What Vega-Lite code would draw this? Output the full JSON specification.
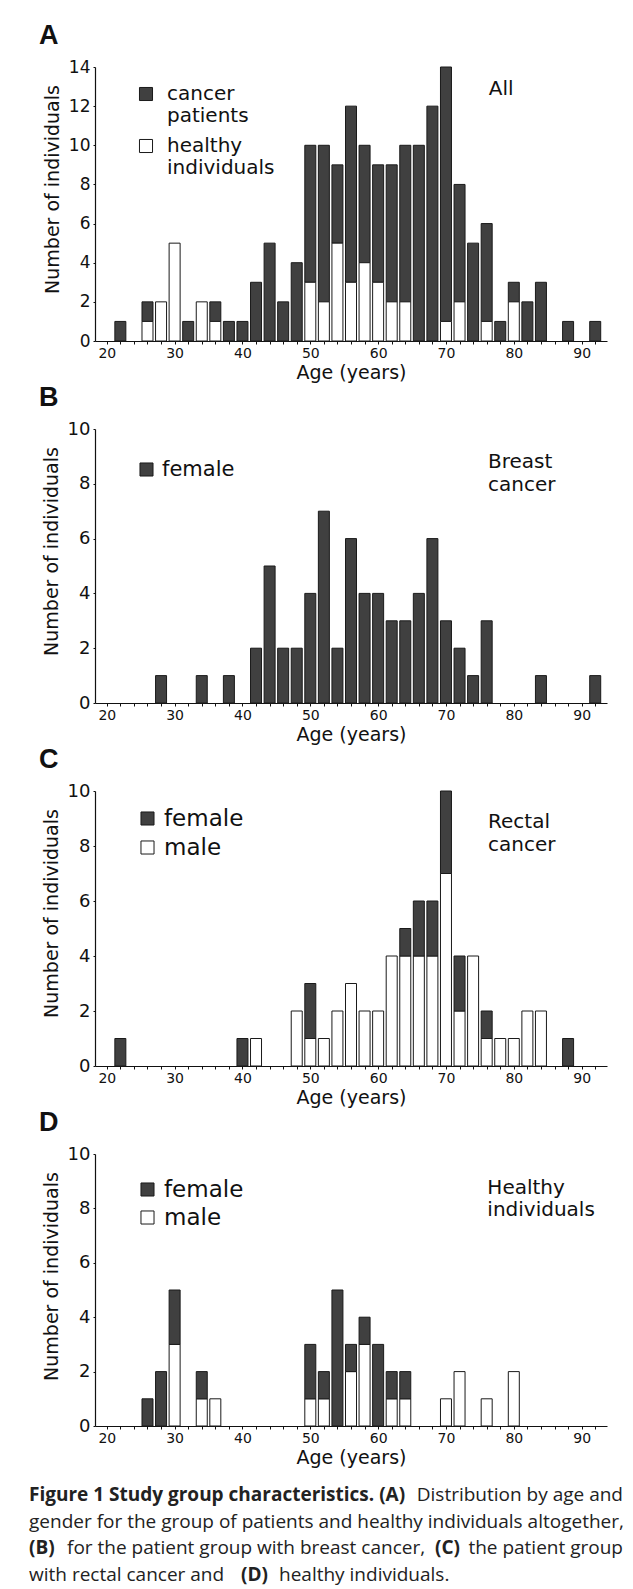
{
  "$schema": "https://vega.github.io/schema/vega-lite/v6.json",
  "background": "white",
  "padding": {"top": 22, "left": 29, "right": 5, "bottom": 4},
  "spacing": 2,
  "resolve": {"scale": {"color": "independent"}, "legend": {"color": "independent"}},
  "datasets": {
    "A": [
      {"age": 22, "group": "cancer patients", "n": 1},
      {"age": 26, "group": "cancer patients", "n": 1},
      {"age": 26, "group": "healthy individuals", "n": 1},
      {"age": 28, "group": "healthy individuals", "n": 2},
      {"age": 30, "group": "healthy individuals", "n": 5},
      {"age": 32, "group": "cancer patients", "n": 1},
      {"age": 34, "group": "healthy individuals", "n": 2},
      {"age": 36, "group": "cancer patients", "n": 1},
      {"age": 36, "group": "healthy individuals", "n": 1},
      {"age": 38, "group": "cancer patients", "n": 1},
      {"age": 40, "group": "cancer patients", "n": 1},
      {"age": 42, "group": "cancer patients", "n": 3},
      {"age": 44, "group": "cancer patients", "n": 5},
      {"age": 46, "group": "cancer patients", "n": 2},
      {"age": 48, "group": "cancer patients", "n": 4},
      {"age": 50, "group": "cancer patients", "n": 7},
      {"age": 50, "group": "healthy individuals", "n": 3},
      {"age": 52, "group": "cancer patients", "n": 8},
      {"age": 52, "group": "healthy individuals", "n": 2},
      {"age": 54, "group": "cancer patients", "n": 4},
      {"age": 54, "group": "healthy individuals", "n": 5},
      {"age": 56, "group": "cancer patients", "n": 9},
      {"age": 56, "group": "healthy individuals", "n": 3},
      {"age": 58, "group": "cancer patients", "n": 6},
      {"age": 58, "group": "healthy individuals", "n": 4},
      {"age": 60, "group": "cancer patients", "n": 6},
      {"age": 60, "group": "healthy individuals", "n": 3},
      {"age": 62, "group": "cancer patients", "n": 7},
      {"age": 62, "group": "healthy individuals", "n": 2},
      {"age": 64, "group": "cancer patients", "n": 8},
      {"age": 64, "group": "healthy individuals", "n": 2},
      {"age": 66, "group": "cancer patients", "n": 10},
      {"age": 68, "group": "cancer patients", "n": 12},
      {"age": 70, "group": "cancer patients", "n": 13},
      {"age": 70, "group": "healthy individuals", "n": 1},
      {"age": 72, "group": "cancer patients", "n": 6},
      {"age": 72, "group": "healthy individuals", "n": 2},
      {"age": 74, "group": "cancer patients", "n": 5},
      {"age": 76, "group": "cancer patients", "n": 5},
      {"age": 76, "group": "healthy individuals", "n": 1},
      {"age": 78, "group": "cancer patients", "n": 1},
      {"age": 80, "group": "cancer patients", "n": 1},
      {"age": 80, "group": "healthy individuals", "n": 2},
      {"age": 82, "group": "cancer patients", "n": 2},
      {"age": 84, "group": "cancer patients", "n": 3},
      {"age": 88, "group": "cancer patients", "n": 1},
      {"age": 92, "group": "cancer patients", "n": 1}
    ],
    "B": [
      {"age": 28, "group": "female", "n": 1},
      {"age": 34, "group": "female", "n": 1},
      {"age": 38, "group": "female", "n": 1},
      {"age": 42, "group": "female", "n": 2},
      {"age": 44, "group": "female", "n": 5},
      {"age": 46, "group": "female", "n": 2},
      {"age": 48, "group": "female", "n": 2},
      {"age": 50, "group": "female", "n": 4},
      {"age": 52, "group": "female", "n": 7},
      {"age": 54, "group": "female", "n": 2},
      {"age": 56, "group": "female", "n": 6},
      {"age": 58, "group": "female", "n": 4},
      {"age": 60, "group": "female", "n": 4},
      {"age": 62, "group": "female", "n": 3},
      {"age": 64, "group": "female", "n": 3},
      {"age": 66, "group": "female", "n": 4},
      {"age": 68, "group": "female", "n": 6},
      {"age": 70, "group": "female", "n": 3},
      {"age": 72, "group": "female", "n": 2},
      {"age": 74, "group": "female", "n": 1},
      {"age": 76, "group": "female", "n": 3},
      {"age": 84, "group": "female", "n": 1},
      {"age": 92, "group": "female", "n": 1}
    ],
    "C": [
      {"age": 22, "group": "female", "n": 1},
      {"age": 40, "group": "female", "n": 1},
      {"age": 42, "group": "male", "n": 1},
      {"age": 48, "group": "male", "n": 2},
      {"age": 50, "group": "male", "n": 1},
      {"age": 50, "group": "female", "n": 2},
      {"age": 52, "group": "male", "n": 1},
      {"age": 54, "group": "male", "n": 2},
      {"age": 56, "group": "male", "n": 3},
      {"age": 58, "group": "male", "n": 2},
      {"age": 60, "group": "male", "n": 2},
      {"age": 62, "group": "male", "n": 4},
      {"age": 64, "group": "male", "n": 4},
      {"age": 64, "group": "female", "n": 1},
      {"age": 66, "group": "male", "n": 4},
      {"age": 66, "group": "female", "n": 2},
      {"age": 68, "group": "male", "n": 4},
      {"age": 68, "group": "female", "n": 2},
      {"age": 70, "group": "male", "n": 7},
      {"age": 70, "group": "female", "n": 3},
      {"age": 72, "group": "male", "n": 2},
      {"age": 72, "group": "female", "n": 2},
      {"age": 74, "group": "male", "n": 4},
      {"age": 76, "group": "male", "n": 1},
      {"age": 76, "group": "female", "n": 1},
      {"age": 78, "group": "male", "n": 1},
      {"age": 80, "group": "male", "n": 1},
      {"age": 82, "group": "male", "n": 2},
      {"age": 84, "group": "male", "n": 2},
      {"age": 88, "group": "female", "n": 1}
    ],
    "D": [
      {"age": 26, "group": "female", "n": 1},
      {"age": 28, "group": "female", "n": 2},
      {"age": 30, "group": "male", "n": 3},
      {"age": 30, "group": "female", "n": 2},
      {"age": 34, "group": "male", "n": 1},
      {"age": 34, "group": "female", "n": 1},
      {"age": 36, "group": "male", "n": 1},
      {"age": 50, "group": "male", "n": 1},
      {"age": 50, "group": "female", "n": 2},
      {"age": 52, "group": "male", "n": 1},
      {"age": 52, "group": "female", "n": 1},
      {"age": 54, "group": "female", "n": 5},
      {"age": 56, "group": "male", "n": 2},
      {"age": 56, "group": "female", "n": 1},
      {"age": 58, "group": "male", "n": 3},
      {"age": 58, "group": "female", "n": 1},
      {"age": 60, "group": "female", "n": 3},
      {"age": 62, "group": "male", "n": 1},
      {"age": 62, "group": "female", "n": 1},
      {"age": 64, "group": "male", "n": 1},
      {"age": 64, "group": "female", "n": 1},
      {"age": 70, "group": "male", "n": 1},
      {"age": 72, "group": "male", "n": 2},
      {"age": 76, "group": "male", "n": 1},
      {"age": 80, "group": "male", "n": 2}
    ],
    "caption": [
      {"line": 1, "seg": "b0", "text": "Figure 1 Study group characteristics. (A)"},
      {"line": 1, "seg": "rR", "text": "Distribution by age and"},
      {"line": 2, "seg": "r0", "text": "gender for the group of patients and healthy individuals altogether,"},
      {"line": 3, "seg": "b0", "text": "(B)"},
      {"line": 3, "seg": "r3", "text": "for the patient group with breast cancer,"},
      {"line": 3, "seg": "b3", "text": "(C)"},
      {"line": 3, "seg": "rR", "text": "the patient group"},
      {"line": 4, "seg": "r0", "text": "with rectal cancer and"},
      {"line": 4, "seg": "b4", "text": "(D)"},
      {"line": 4, "seg": "r4", "text": "healthy individuals."}
    ]
  },
  "vconcat": [
    {
      "width": 512, "height": 274,
      "title": {"text": "A", "anchor": "start", "frame": "group", "dx": -56, "font": "Liberation Sans", "fontSize": 27, "fontWeight": "bold", "color": "#111", "offset": 8},
      "layer": [
        {
          "data": {"name": "A"},
          "mark": {"type": "bar", "width": 11, "stroke": "#1a1a1a", "strokeWidth": 1},
          "encoding": {
            "x": {"field": "age", "type": "quantitative", "scale": {"domain": [19, 93], "nice": false, "zero": false},
              "axis": {"values": [20,22,24,26,28,30,32,34,36,38,40,42,44,46,48,50,52,54,56,58,60,62,64,66,68,70,72,74,76,78,80,82,84,86,88,90,92], "tickCount": 100, "format": "d", "labelExpr": "datum.value % 10 === 0 ? datum.label : ''", "tickSize": 3, "labelFontSize": 14, "labelPadding": 2, "labelFlush": false, "labelOverlap": false, "title": "Age (years)", "titleFontSize": 19, "titlePadding": 3}},
            "y": {"field": "n", "type": "quantitative", "stack": "zero", "scale": {"domain": [0, 14], "nice": false},
              "axis": {"values": [0,2,4,6,8,10,12,14], "tickCount": 100, "format": "d", "tickSize": 2, "labelFontSize": 17, "labelPadding": 3, "labelOverlap": false, "title": "Number of individuals", "titleFontSize": 19, "titlePadding": 6, "titleY": 122}},
            "color": {"field": "group", "type": "nominal", "scale": {"domain": ["cancer patients", "healthy individuals"], "range": ["#404040", "#ffffff"]},
              "legend": {"orient": "none", "legendX": 41, "legendY": 17, "title": null, "symbolType": "square", "symbolSize": 170, "symbolStrokeColor": "#1a1a1a", "symbolStrokeWidth": 1, "labelFontSize": 20, "labelOffset": 11, "rowPadding": 10, "labelExpr": "split(datum.label, ' ')"}},
            "order": {"field": "group", "sort": "descending"}
          }
        },
        {
          "data": {"values": [{"label": "All"}]},
          "mark": {"type": "text", "align": "left", "baseline": "alphabetic", "font": "DejaVu Sans", "fontSize": 20, "color": "#111"},
          "encoding": {"x": {"datum": 76.3, "type": "quantitative"}, "y": {"datum": 12.57, "type": "quantitative"}, "text": {"field": "label"}}
        }
      ]
    },
    {
      "width": 512, "height": 274,
      "title": {"text": "B", "anchor": "start", "frame": "group", "dx": -56, "font": "Liberation Sans", "fontSize": 27, "fontWeight": "bold", "color": "#111", "offset": 8},
      "layer": [
        {
          "data": {"name": "B"},
          "mark": {"type": "bar", "width": 11, "stroke": "#1a1a1a", "strokeWidth": 1},
          "encoding": {
            "x": {"field": "age", "type": "quantitative", "scale": {"domain": [19, 93], "nice": false, "zero": false},
              "axis": {"values": [20,22,24,26,28,30,32,34,36,38,40,42,44,46,48,50,52,54,56,58,60,62,64,66,68,70,72,74,76,78,80,82,84,86,88,90,92], "tickCount": 100, "format": "d", "labelExpr": "datum.value % 10 === 0 ? datum.label : ''", "tickSize": 3, "labelFontSize": 14, "labelPadding": 2, "labelFlush": false, "labelOverlap": false, "title": "Age (years)", "titleFontSize": 19, "titlePadding": 3}},
            "y": {"field": "n", "type": "quantitative", "stack": "zero", "scale": {"domain": [0, 10], "nice": false},
              "axis": {"values": [0,2,4,6,8,10], "tickCount": 100, "format": "d", "tickSize": 2, "labelFontSize": 18, "labelPadding": 3, "labelOverlap": false, "title": "Number of individuals", "titleFontSize": 19, "titlePadding": 6, "titleY": 122}},
            "color": {"field": "group", "type": "nominal", "scale": {"domain": ["female"], "range": ["#404040"]},
              "legend": {"orient": "none", "legendX": 41, "legendY": 30, "title": null, "symbolType": "square", "symbolSize": 170, "symbolStrokeColor": "#1a1a1a", "symbolStrokeWidth": 1, "labelFontSize": 21, "labelOffset": 5}},
            "order": {"field": "group", "sort": "descending"}
          }
        },
        {
          "data": {"values": [{"label": "Breast cancer"}]},
          "mark": {"type": "text", "align": "left", "baseline": "alphabetic", "font": "DejaVu Sans", "fontSize": 20, "color": "#111", "lineBreak": " ", "lineHeight": 23},
          "encoding": {"x": {"datum": 76.2, "type": "quantitative"}, "y": {"datum": 8.58, "type": "quantitative"}, "text": {"field": "label"}}
        }
      ]
    },
    {
      "width": 512, "height": 275,
      "title": {"text": "C", "anchor": "start", "frame": "group", "dx": -56, "font": "Liberation Sans", "fontSize": 27, "fontWeight": "bold", "color": "#111", "offset": 8},
      "layer": [
        {
          "data": {"name": "C"},
          "mark": {"type": "bar", "width": 11, "stroke": "#1a1a1a", "strokeWidth": 1},
          "encoding": {
            "x": {"field": "age", "type": "quantitative", "scale": {"domain": [19, 93], "nice": false, "zero": false},
              "axis": {"values": [20,22,24,26,28,30,32,34,36,38,40,42,44,46,48,50,52,54,56,58,60,62,64,66,68,70,72,74,76,78,80,82,84,86,88,90,92], "tickCount": 100, "format": "d", "labelExpr": "datum.value % 10 === 0 ? datum.label : ''", "tickSize": 3, "labelFontSize": 14, "labelPadding": 2, "labelFlush": false, "labelOverlap": false, "title": "Age (years)", "titleFontSize": 19, "titlePadding": 3}},
            "y": {"field": "n", "type": "quantitative", "stack": "zero", "scale": {"domain": [0, 10], "nice": false},
              "axis": {"values": [0,2,4,6,8,10], "tickCount": 100, "format": "d", "tickSize": 2, "labelFontSize": 18, "labelPadding": 3, "labelOverlap": false, "title": "Number of individuals", "titleFontSize": 19, "titlePadding": 6, "titleY": 122}},
            "color": {"field": "group", "type": "nominal", "scale": {"domain": ["female", "male"], "range": ["#404040", "#ffffff"]},
              "legend": {"orient": "none", "legendX": 41, "legendY": 16, "title": null, "symbolType": "square", "symbolSize": 170, "symbolStrokeColor": "#1a1a1a", "symbolStrokeWidth": 1, "labelFontSize": 23, "labelOffset": 5, "rowPadding": 5}},
            "order": {"field": "group", "sort": "descending"}
          }
        },
        {
          "data": {"values": [{"label": "Rectal cancer"}]},
          "mark": {"type": "text", "align": "left", "baseline": "alphabetic", "font": "DejaVu Sans", "fontSize": 20, "color": "#111", "lineBreak": " ", "lineHeight": 23},
          "encoding": {"x": {"datum": 76.2, "type": "quantitative"}, "y": {"datum": 8.67, "type": "quantitative"}, "text": {"field": "label"}}
        }
      ]
    },
    {
      "width": 512, "height": 272,
      "title": {"text": "D", "anchor": "start", "frame": "group", "dx": -56, "font": "Liberation Sans", "fontSize": 27, "fontWeight": "bold", "color": "#111", "offset": 8},
      "layer": [
        {
          "data": {"name": "D"},
          "mark": {"type": "bar", "width": 11, "stroke": "#1a1a1a", "strokeWidth": 1},
          "encoding": {
            "x": {"field": "age", "type": "quantitative", "scale": {"domain": [19, 93], "nice": false, "zero": false},
              "axis": {"values": [20,22,24,26,28,30,32,34,36,38,40,42,44,46,48,50,52,54,56,58,60,62,64,66,68,70,72,74,76,78,80,82,84,86,88,90,92], "tickCount": 100, "format": "d", "labelExpr": "datum.value % 10 === 0 ? datum.label : ''", "tickSize": 3, "labelFontSize": 14, "labelPadding": 2, "labelFlush": false, "labelOverlap": false, "title": "Age (years)", "titleFontSize": 19, "titlePadding": 3}},
            "y": {"field": "n", "type": "quantitative", "stack": "zero", "scale": {"domain": [0, 10], "nice": false},
              "axis": {"values": [0,2,4,6,8,10], "tickCount": 100, "format": "d", "tickSize": 2, "labelFontSize": 18, "labelPadding": 3, "labelOverlap": false, "title": "Number of individuals", "titleFontSize": 19, "titlePadding": 6, "titleY": 122}},
            "color": {"field": "group", "type": "nominal", "scale": {"domain": ["female", "male"], "range": ["#404040", "#ffffff"]},
              "legend": {"orient": "none", "legendX": 41, "legendY": 24, "title": null, "symbolType": "square", "symbolSize": 170, "symbolStrokeColor": "#1a1a1a", "symbolStrokeWidth": 1, "labelFontSize": 23, "labelOffset": 5, "rowPadding": 4}},
            "order": {"field": "group", "sort": "descending"}
          }
        },
        {
          "data": {"values": [{"label": "Healthy individuals"}]},
          "mark": {"type": "text", "align": "left", "baseline": "alphabetic", "font": "DejaVu Sans", "fontSize": 20, "color": "#111", "lineBreak": " ", "lineHeight": 22},
          "encoding": {"x": {"datum": 76.1, "type": "quantitative"}, "y": {"datum": 8.54, "type": "quantitative"}, "text": {"field": "label"}}
        }
      ]
    },
    {
      "width": 512, "height": 111,
      "data": {"name": "caption"},
      "encoding": {"y": {"field": "line", "type": "quantitative", "scale": {"domain": [1, 4], "range": [26, 106], "nice": false, "zero": false}, "axis": null}},
      "layer": [
        {"transform": [{"filter": "datum.seg === 'b0'"}], "mark": {"type": "text", "align": "left", "baseline": "middle", "x": -66, "font": "Open Sans", "fontSize": 19, "fontWeight": "bold", "color": "#222"}, "encoding": {"text": {"field": "text"}}},
        {"transform": [{"filter": "datum.seg === 'r0'"}], "mark": {"type": "text", "align": "left", "baseline": "middle", "x": -66, "font": "Open Sans", "fontSize": 19, "color": "#222"}, "encoding": {"text": {"field": "text"}}},
        {"transform": [{"filter": "datum.seg === 'rR'"}], "mark": {"type": "text", "align": "right", "baseline": "middle", "x": 528, "font": "Open Sans", "fontSize": 19, "color": "#222"}, "encoding": {"text": {"field": "text"}}},
        {"transform": [{"filter": "datum.seg === 'r3'"}], "mark": {"type": "text", "align": "left", "baseline": "middle", "x": -28, "font": "Open Sans", "fontSize": 19, "color": "#222"}, "encoding": {"text": {"field": "text"}}},
        {"transform": [{"filter": "datum.seg === 'b3'"}], "mark": {"type": "text", "align": "left", "baseline": "middle", "x": 340, "font": "Open Sans", "fontSize": 19, "fontWeight": "bold", "color": "#222"}, "encoding": {"text": {"field": "text"}}},
        {"transform": [{"filter": "datum.seg === 'b4'"}], "mark": {"type": "text", "align": "left", "baseline": "middle", "x": 146, "font": "Open Sans", "fontSize": 19, "fontWeight": "bold", "color": "#222"}, "encoding": {"text": {"field": "text"}}},
        {"transform": [{"filter": "datum.seg === 'r4'"}], "mark": {"type": "text", "align": "left", "baseline": "middle", "x": 184, "font": "Open Sans", "fontSize": 19, "color": "#222"}, "encoding": {"text": {"field": "text"}}}
      ]
    }
  ],
  "config": {
    "view": {"stroke": null},
    "font": "DejaVu Sans",
    "axis": {"labelFont": "DejaVu Sans", "titleFont": "DejaVu Sans", "titleFontWeight": "normal", "domainColor": "#111", "tickColor": "#111", "labelColor": "#111", "titleColor": "#111", "grid": false, "domainWidth": 1.2, "tickWidth": 1},
    "legend": {"labelFont": "DejaVu Sans", "labelColor": "#111", "labelLimit": 300}
  }
}
